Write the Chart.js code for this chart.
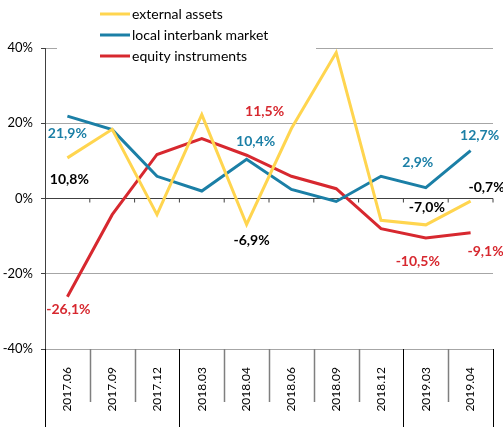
<!DOCTYPE html>
<html>
<head>
<meta charset="utf-8">
<script src="https://cdn.jsdelivr.net/npm/chart.js@4.4.0/dist/chart.umd.min.js"></script>
<style>
  html, body { margin: 0; padding: 0; background: #fff; }
  #wrap { width: 503px; height: 427px; }
</style>
</head>
<body>
<div id="wrap"><canvas id="myChart"></canvas></div>
<script>
const periodos = ['2017.06', '2017.09', '2017.12', '2018.03', '2018.04', '2018.06', '2018.09', '2018.12', '2019.03', '2019.04']

const nombres = ['external assets', 'local interbank market', 'equity instruments']

/* valores de cada serie, en % */
const valoresExternal = [10.8, 18.4, -4.3, 22.3, -6.9, 18.6, 38.8, -5.8, -7.0, -0.7]
const valoresInterbank = [21.9, 18.3, 5.9, 2.0, 10.4, 2.4, -0.8, 5.9, 2.9, 12.7]
const valoresEquity = [-26.1, -4.3, 11.7, 15.9, 11.5, 5.9, 2.6, -8.0, -10.5, -9.1]

const ticksY = [-40, -20, 0, 20, 40]

/* colores de las lineas */
const colorAmarillo = '#ffd54f'
const colorAzul = '#1b7fa6'
const colorRojo = '#d7282f'

/* que puntos llevan etiqueta: serie, punto, desplazamiento en px */
const etiquetas = [
  { ds: 1, i: 0, dx: 0, dy: 17 },
  { ds: 0, i: 0, dx: 2, dy: 22 },
  { ds: 2, i: 0, dx: 1, dy: 13 },
  { ds: 2, i: 4, dx: 18, dy: -44 },
  { ds: 1, i: 4, dx: 9, dy: -18 },
  { ds: 0, i: 4, dx: 5, dy: 16 },
  { ds: 1, i: 8, dx: -8, dy: -25 },
  { ds: 1, i: 9, dx: 9, dy: -15 },
  { ds: 0, i: 8, dx: 1, dy: -17 },
  { ds: 0, i: 9, dx: 16, dy: -14 },
  { ds: 2, i: 8, dx: -8, dy: 23 },
  { ds: 2, i: 9, dx: 15, dy: 19 }
]
const coloresEtiqueta = ['#000000', colorAzul, colorRojo]

const fuente = 'Lato'

function formato(v){
  return v.toFixed(1).replace('.', ',') + '%'
}

/* linea del 0% con sus marcas */
const lineaCero = {
  id: 'lineaCero',
  beforeDatasetsDraw(chart){
    const { ctx, chartArea, scales } = chart
    const y0 = scales.y.getPixelForValue(0)
    const n = periodos.length
    ctx.save()
    ctx.strokeStyle = '#404040'
    ctx.lineWidth = 1
    ctx.beginPath()
    ctx.moveTo(chartArea.left, y0)
    ctx.lineTo(chartArea.right, y0)
    for (let k = 1; k <= n; k++) {
      let x = k === n ? chartArea.right : (scales.x.getPixelForValue(k - 1) + scales.x.getPixelForValue(k)) / 2
      ctx.moveTo(x, y0)
      ctx.lineTo(x, y0 + 4)
    }
    ctx.stroke()
    ctx.restore()
  }
}

/* divisiones entre categorias debajo del grafico */
const divisiones = {
  id: 'divisiones',
  afterDraw(chart){
    const { ctx, chartArea, scales } = chart
    const n = periodos.length
    ctx.save()
    for (let k = 0; k <= n; k++) {
      let x
      if (k === 0) x = chartArea.left
      else if (k === n) x = chartArea.right
      else x = (scales.x.getPixelForValue(k - 1) + scales.x.getPixelForValue(k)) / 2
      const cambioAnio = k === 0 || k === n || periodos[k - 1].slice(0, 4) !== periodos[k].slice(0, 4)
      ctx.beginPath()
      ctx.strokeStyle = cambioAnio ? '#000000' : '#7f7f7f'
      ctx.lineWidth = cambioAnio ? 1 : 1.5
      ctx.moveTo(Math.round(x) + 0.5, chartArea.bottom)
      ctx.lineTo(Math.round(x) + 0.5, cambioAnio ? chart.height : chartArea.bottom + 53)
      ctx.stroke()
    }
    ctx.restore()
  }
}

/* etiquetas de valores */
const valores = {
  id: 'valores',
  afterDatasetsDraw(chart){
    const { ctx } = chart
    ctx.save()
    ctx.font = 'bold 14px ' + fuente
    ctx.textAlign = 'center'
    ctx.textBaseline = 'middle'
    etiquetas.forEach(e => {
      const punto = chart.getDatasetMeta(e.ds).data[e.i]
      const v = chart.data.datasets[e.ds].data[e.i]
      ctx.fillStyle = coloresEtiqueta[e.ds]
      ctx.fillText(formato(v), punto.x + e.dx, punto.y + e.dy)
    })
    ctx.restore()
  }
}

/* leyenda arriba, tapando la linea del 40% */
const leyenda = {
  id: 'leyenda',
  afterDraw(chart){
    const { ctx } = chart
    ctx.save()
    ctx.fillStyle = '#ffffff'
    ctx.fillRect(57, 0, 259, 66)
    ctx.font = '14px ' + fuente
    ctx.textBaseline = 'middle'
    chart.data.datasets.forEach((d, i) => {
      const y = 14 + i * 21
      ctx.strokeStyle = d.borderColor
      ctx.lineWidth = 3
      ctx.beginPath()
      ctx.moveTo(100, y)
      ctx.lineTo(130, y)
      ctx.stroke()
      ctx.fillStyle = '#000000'
      ctx.fillText(d.label, 132, y)
    })
    ctx.restore()
  }
}

const ctx = document.getElementById('myChart')

const mychart = new Chart(ctx, {
  type: 'line',
  data: {
    labels: periodos,
    datasets: [{
      label: nombres[0],
      data: valoresExternal,
      borderColor: colorAmarillo,
      backgroundColor: colorAmarillo,
      borderWidth: 3
    },
    {
      label: nombres[1],
      data: valoresInterbank,
      borderColor: colorAzul,
      backgroundColor: colorAzul,
      borderWidth: 3
    },
    {
      label: nombres[2],
      data: valoresEquity,
      borderColor: colorRojo,
      backgroundColor: colorRojo,
      borderWidth: 3
    }]
  },
  options: {
    responsive: true,
    maintainAspectRatio: false,
    animation: false,
    elements: { point: { radius: 0 }, line: { tension: 0 } },
    layout: { padding: { top: 48, right: 10, left: 0, bottom: 0 } },
    plugins: {
      legend: { display: false },
      tooltip: { enabled: false }
    },
    scales: {
      x: {
        offset: true,
        grid: { display: false },
        border: { display: false },
        ticks: {
          autoSkip: false,
          minRotation: 90,
          maxRotation: 90,
          padding: 10,
          color: '#000000',
          font: { family: fuente, size: 12 }
        },
        afterFit(scale){ scale.height = 78 }
      },
      y: {
        min: -40,
        max: 40,
        afterBuildTicks(scale){ scale.ticks = ticksY.map(v => ({ value: v })) },
        grid: {
          color: c => (c.tick && c.tick.value === 0) ? 'rgba(0,0,0,0)' : '#a6a6a6',
          borderDash: [4, 3],
          tickBorderDash: [],
          tickColor: '#404040',
          tickLength: 4
        },
        border: { display: true, color: '#404040', width: 1 },
        ticks: {
          padding: 8,
          color: '#000000',
          font: { family: fuente, size: 13 },
          callback: v => v + '%'
        },
        afterFit(scale){ scale.width = 45 }
      }
    }
  },
  plugins: [lineaCero, divisiones, valores, leyenda]
})
</script>
</body>
</html>
